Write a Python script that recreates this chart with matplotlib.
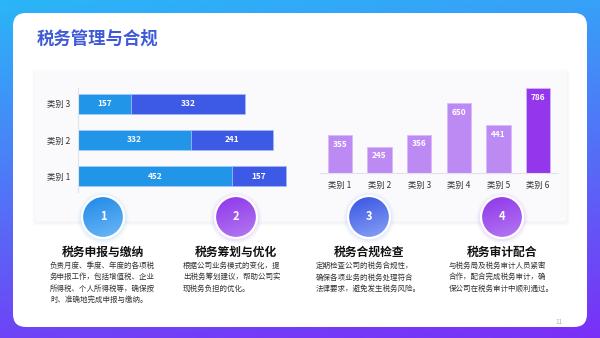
import numpy as np
import matplotlib
matplotlib.use("Agg")
import matplotlib.pyplot as plt
from matplotlib.patches import FancyBboxPatch, Circle
from matplotlib.colors import to_rgb

plt.rcParams['font.family'] = ['Noto Sans CJK SC', 'DejaVu Sans']

# data
title = '税务管理与合规'
h_categories = ['类别 1', '类别 2', '类别 3']
h_series1 = [452, 332, 157]
h_series2 = [157, 241, 332]
v_categories = ['类别 1', '类别 2', '类别 3', '类别 4', '类别 5', '类别 6']
v_values = [355, 245, 356, 650, 441, 786]
step_numbers = ['1', '2', '3', '4']
step_titles = ['税务申报与缴纳', '税务筹划与优化', '税务合规检查', '税务审计配合']
step_lines = [
    ['负责月度、季度、年度的各项税', '务申报工作，包括增值税、企业',
     '所得税、个人所得税等，确保按', '时、准确地完成申报与缴纳。'],
    ['根据公司业务模式的变化，提', '出税务筹划建议，帮助公司实', '现税务负担的优化。'],
    ['定期检查公司的税务合规性，', '确保各项业务的税务处理符合', '法律要求，避免发生税务风险。'],
    ['与税务局及税务审计人员紧密', '合作，配合完成税务审计，确', '保公司在税务审计中顺利通过。'],
]
page_no = '11'

W, H = 600, 338
fig = plt.figure(figsize=(6, 3.38), dpi=100)

# background layer in pixel coords (y down)
bg = fig.add_axes([0, 0, 1, 1])
bg.set_xlim(0, W)
bg.set_ylim(H, 0)
bg.axis('off')

yy, xx = np.mgrid[0:H, 0:W]
t = np.clip(0.85 * yy / H + 0.15 * xx / W, 0, 1)[..., None]
c0 = np.array(to_rgb('#2AB6F8'))
c1 = np.array(to_rgb('#7B2FF6'))
bg.imshow(c0 * (1 - t) + c1 * t, extent=[0, W, H, 0], aspect='auto', zorder=0)

card = FancyBboxPatch((13, 13), 574, 314, boxstyle='round,pad=0,rounding_size=13',
                      fc='white', ec='none', zorder=1)
bg.add_patch(card)

bg.text(37, 39, title, fontsize=12.5, fontweight='bold', color='#3F5AD8',
        va='center', ha='left', zorder=5)

# chart panel with soft shadow
for i, a in enumerate([0.018, 0.012, 0.008]):
    bg.add_patch(FancyBboxPatch((35 - i - 1, 71 - i), 532 + 2 * i + 2, 150 + 2 * i + 3,
                                boxstyle='round,pad=0,rounding_size=3',
                                fc='#000000', alpha=a, ec='none', zorder=1.5))
bg.add_patch(FancyBboxPatch((35, 71), 532, 150, boxstyle='round,pad=0,rounding_size=2',
                            fc='#FAFAFC', ec='none', zorder=2))

# steps
circle_x = [103, 236, 369, 502]
circle_y = 217
grads = [('#1E88E6', '#6DB8F7'), ('#8E35EA', '#B47AF2'),
         ('#3553E2', '#8AA2F6'), ('#8E35EA', '#B47AF2')]
r = 21
for i, cx in enumerate(circle_x):
    # glow
    for k, a in enumerate([0.10, 0.07, 0.04]):
        bg.add_patch(Circle((cx, circle_y + 1), r + 2 + 1.5 * k, fc=grads[i][1],
                            alpha=a, ec='none', zorder=3))
    n = 60
    gy, gx = np.mgrid[0:n, 0:n] / (n - 1)
    tt = np.clip(0.75 * gy + 0.25 * gx, 0, 1)[..., None]
    ga = np.array(to_rgb(grads[i][0]))
    gb = np.array(to_rgb(grads[i][1]))
    im = bg.imshow(ga * (1 - tt) + gb * tt,
                   extent=[cx - r, cx + r, circle_y + r, circle_y - r],
                   aspect='auto', zorder=4)
    clip = Circle((cx, circle_y), r, transform=bg.transData, fc='none', ec='none')
    bg.add_patch(clip)
    im.set_clip_path(clip)
    bg.add_patch(Circle((cx, circle_y), r, fc='none', ec='white', lw=1.6, zorder=4.5))
    bg.text(cx, circle_y, step_numbers[i], color='white', fontsize=8, fontweight='bold',
            ha='center', va='center', zorder=5)
    bg.text(cx, 252, step_titles[i], color='#111111', fontsize=8.5, fontweight='bold',
            ha='center', va='center', zorder=5)
    for j, line in enumerate(step_lines[i]):
        bg.text(cx - 53, 266 + 11.3 * j, line, color='#333333', fontsize=5.4,
                ha='left', va='center', zorder=5)

bg.text(559, 322, page_no, color='#B0B0B0', fontsize=4.5, ha='center', va='center', zorder=5)


def px_axes(x0, x1, y0, y1):
    return fig.add_axes([x0 / W, (H - y1) / H, (x1 - x0) / W, (y1 - y0) / H])


# horizontal stacked bars
ax1 = px_axes(77.5, 300, 88, 192)
ax1.set_facecolor('none')
y = np.arange(len(h_categories))
ax1.barh(y, h_series1, height=0.55, color='#2196E8', edgecolor='#A8CFF6', linewidth=0.5)
ax1.barh(y, h_series2, left=h_series1, height=0.55, color='#3D5AE6',
         edgecolor='#A8B8F6', linewidth=0.5)
for yi, a, b in zip(y, h_series1, h_series2):
    ax1.text(a / 2, yi, str(a), color='white', fontsize=6, fontweight='bold',
             ha='center', va='center')
    ax1.text(a + b / 2, yi, str(b), color='white', fontsize=6, fontweight='bold',
             ha='center', va='center')
ax1.set_xlim(0, 651)
ax1.set_ylim(-0.44, 2.44)
ax1.set_yticks(y)
ax1.set_yticklabels(h_categories, fontsize=6, color='#333333')
ax1.tick_params(axis='y', length=0, pad=5)
ax1.set_xticks([])
for s in ['top', 'right', 'bottom']:
    ax1.spines[s].set_visible(False)
ax1.spines['left'].set_color('#E2E2E8')
ax1.spines['left'].set_linewidth(0.8)

# vertical bars
ax2 = px_axes(320, 558, 80, 173)
ax2.set_facecolor('none')
x = np.arange(len(v_categories))
colors = ['#BC8AF2'] * (len(v_values) - 1) + ['#9437EC']
ax2.bar(x, v_values, width=0.61, color=colors, edgecolor='#D6B8F8', linewidth=0.5)
for xi, v in zip(x, v_values):
    ax2.annotate(str(v), (xi, v), xytext=(0, -3.5), textcoords='offset points',
                 color='white', fontsize=6, fontweight='bold', ha='center', va='top')
ax2.set_xlim(-0.5, 5.5)
ax2.set_ylim(0, 861)
ax2.set_xticks(x)
ax2.set_xticklabels(v_categories, fontsize=6, color='#333333')
ax2.tick_params(axis='x', length=0, pad=6)
ax2.set_yticks([])
for s in ['top', 'right', 'left']:
    ax2.spines[s].set_visible(False)
ax2.spines['bottom'].set_color('#E6E0EE')
ax2.spines['bottom'].set_linewidth(0.8)

fig.savefig('out.png', dpi=100)
